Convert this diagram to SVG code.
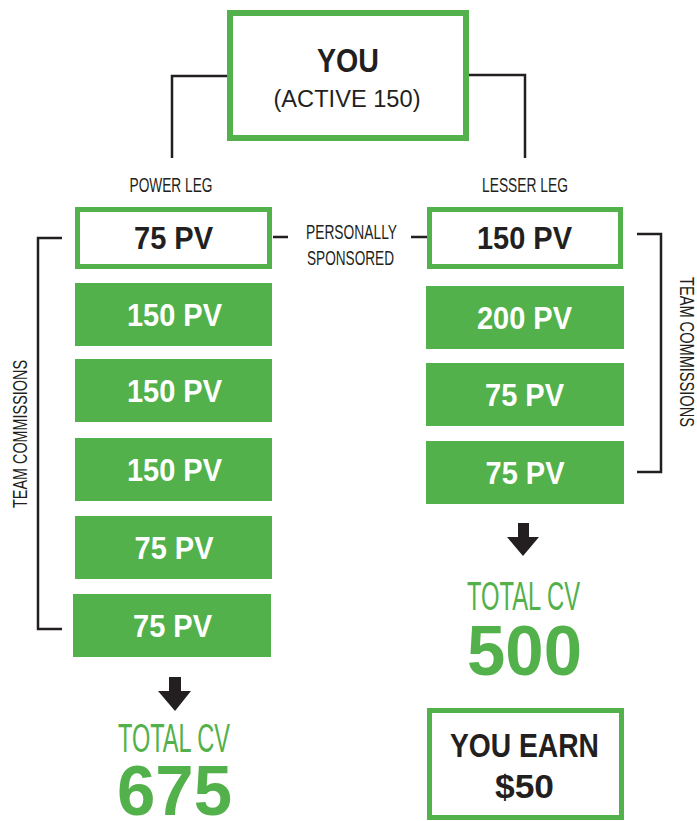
<svg xmlns="http://www.w3.org/2000/svg" width="697" height="821" viewBox="0 0 697 821">
<style>
.ob{fill:#fff;stroke:#52b14a;stroke-width:5}
.gb{fill:#52b14a}
.ln{fill:none;stroke:#231f20;stroke-width:2.5}
.t{font-family:"Liberation Sans",Arial,sans-serif;text-anchor:middle}
.pv{font-size:31px;font-weight:bold;fill:#fff}
.pvd{font-size:31px;font-weight:bold;fill:#231f20}
.sm{font-size:20px;fill:#231f20}
.tot{font-size:40px;fill:#52b14a}
.big{font-size:70px;font-weight:bold;fill:#52b14a}
.hd{font-weight:bold;fill:#231f20}
.ar{fill:#231f20}
</style>
<g id="connectors">
<path class="ln" d="M228,76 H172 V158"/>
<path class="ln" d="M468,75 H525 V158"/>
<path class="ln" d="M273,237 H288"/>
<path class="ln" d="M411,237 H427"/>
<path class="ln" d="M62,238 H38 V629 H62"/>
<path class="ln" d="M637,234 H661 V472 H637"/>
</g>
<g id="you">
<rect x="230" y="13" width="236" height="125" fill="#fff" stroke="#52b14a" stroke-width="6"/>
<text class="t hd" x="348" y="72" font-size="34" textLength="62" lengthAdjust="spacingAndGlyphs">YOU</text>
<text class="t" x="347" y="107" font-size="23" fill="#231f20" textLength="147" lengthAdjust="spacingAndGlyphs">(ACTIVE 150)</text>
</g>
<g id="power-leg-label"><text class="t sm" x="171" y="192" textLength="83" lengthAdjust="spacingAndGlyphs">POWER LEG</text></g>
<g id="lesser-leg-label"><text class="t sm" x="525" y="192" textLength="86" lengthAdjust="spacingAndGlyphs">LESSER LEG</text></g>
<g id="personally-sponsored">
<text class="t sm" x="351.5" y="239" textLength="91" lengthAdjust="spacingAndGlyphs">PERSONALLY</text>
<text class="t sm" x="350.5" y="265" textLength="87" lengthAdjust="spacingAndGlyphs">SPONSORED</text>
</g>
<g id="team-left"><text class="t sm" transform="translate(27,434) rotate(-90)" x="0" y="0" textLength="148" lengthAdjust="spacingAndGlyphs">TEAM COMMISSIONS</text></g>
<g id="team-right"><text class="t sm" transform="translate(680,352) rotate(90)" x="0" y="0" textLength="150" lengthAdjust="spacingAndGlyphs">TEAM  COMMISSIONS</text></g>
<g id="left-p">
<rect class="ob" x="77.5" y="209.5" width="192" height="57"/>
<text class="t pvd" x="173.5" y="249" textLength="79" lengthAdjust="spacingAndGlyphs">75 PV</text>
</g>
<g id="left-1"><rect class="gb" x="75" y="283" width="197" height="63"/><text class="t pv" x="174.5" y="326" textLength="95" lengthAdjust="spacingAndGlyphs">150 PV</text></g>
<g id="left-2"><rect class="gb" x="75" y="359" width="197" height="63"/><text class="t pv" x="174.5" y="402" textLength="95" lengthAdjust="spacingAndGlyphs">150 PV</text></g>
<g id="left-3"><rect class="gb" x="75" y="438" width="197" height="63"/><text class="t pv" x="174.5" y="481" textLength="95" lengthAdjust="spacingAndGlyphs">150 PV</text></g>
<g id="left-4"><rect class="gb" x="75" y="516" width="197" height="63"/><text class="t pv" x="174" y="559" textLength="79" lengthAdjust="spacingAndGlyphs">75 PV</text></g>
<g id="left-5"><rect class="gb" x="73" y="594" width="198" height="63"/><text class="t pv" x="172.5" y="637" textLength="79" lengthAdjust="spacingAndGlyphs">75 PV</text></g>
<g id="right-p">
<rect class="ob" x="429.5" y="209.5" width="191" height="57"/>
<text class="t pvd" x="524.5" y="249" textLength="95" lengthAdjust="spacingAndGlyphs">150 PV</text>
</g>
<g id="right-1"><rect class="gb" x="426" y="286" width="198" height="63"/><text class="t pv" x="524.5" y="329" textLength="95" lengthAdjust="spacingAndGlyphs">200 PV</text></g>
<g id="right-2"><rect class="gb" x="426" y="363" width="198" height="63"/><text class="t pv" x="524.5" y="406" textLength="79" lengthAdjust="spacingAndGlyphs">75 PV</text></g>
<g id="right-3"><rect class="gb" x="426" y="441" width="198" height="63"/><text class="t pv" x="525" y="484" textLength="79" lengthAdjust="spacingAndGlyphs">75 PV</text></g>
<g id="left-total">
<path class="ar" d="M169,677 H181 V691 H191 L175,711 L158,691 H169 Z"/>
<text class="t tot" x="174" y="752" textLength="112" lengthAdjust="spacingAndGlyphs">TOTAL CV</text>
<text class="t big" x="174.5" y="815" textLength="115" lengthAdjust="spacingAndGlyphs">675</text>
</g>
<g id="right-total">
<path class="ar" d="M518,523 H529 V537 H539 L523,556 L507,537 H518 Z"/>
<text class="t tot" x="523.5" y="610" textLength="113" lengthAdjust="spacingAndGlyphs">TOTAL CV</text>
<text class="t big" x="524.5" y="675" textLength="115" lengthAdjust="spacingAndGlyphs">500</text>
</g>
<g id="you-earn">
<rect class="ob" x="429.5" y="710.5" width="192" height="107"/>
<text class="t hd" x="524.5" y="757" font-size="33" textLength="149" lengthAdjust="spacingAndGlyphs">YOU EARN</text>
<text class="t hd" x="524.5" y="798" font-size="33" textLength="59" lengthAdjust="spacingAndGlyphs">$50</text>
</g>
</svg>
